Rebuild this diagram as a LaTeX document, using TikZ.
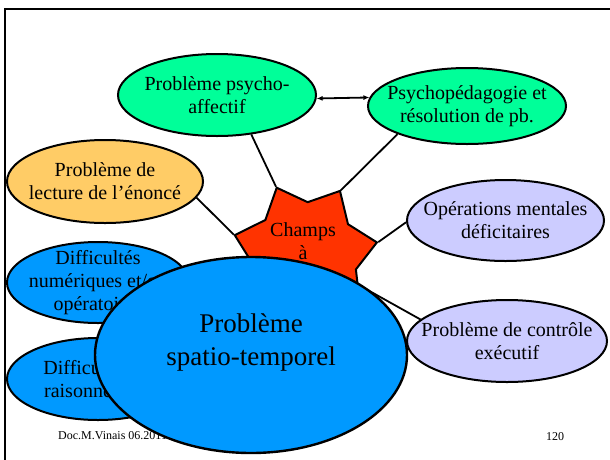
\documentclass[tikz,border=0pt]{standalone}
\usepackage{fontspec}
\setmainfont{Liberation Serif}
\usetikzlibrary{shapes.geometric,arrows.meta,backgrounds}
\definecolor{mint}{RGB}{0,255,153}
\definecolor{sand}{RGB}{255,204,102}
\definecolor{lilac}{RGB}{204,204,255}
\definecolor{sky}{RGB}{0,153,255}
\definecolor{flame}{RGB}{255,51,0}
\begin{document}
\begin{tikzpicture}[x=1pt,y=-1pt,
  bubble/.style={ellipse,draw=black,line width=2pt,inner sep=0pt},
  caption/.style={align=center,font=\fontsize{20}{23}\selectfont,inner sep=0pt},
  link/.style={line width=1.8pt},
  small/.style={font=\fontsize{12}{14}\selectfont,inner sep=0pt},
]
\useasboundingbox (0,0) rectangle (610,459);

% themes around the centre
\node[bubble,fill=mint,minimum width=198,minimum height=82] (g1) at (217,95) {};
\node[bubble,fill=mint,minimum width=198,minimum height=76] (g2) at (467,106) {};
\node[bubble,fill=sand,minimum width=196,minimum height=83] (o1) at (105,181.5) {};
\node[bubble,fill=lilac,minimum width=197,minimum height=81] (l1) at (505.5,220.5) {};
\node[bubble,fill=lilac,minimum width=200,minimum height=82] (l2) at (507,341) {};

% central star
\node[star,star points=7,star point ratio=1.38,shape border rotate=22.8,
      minimum size=146,inner sep=0pt,draw=black,line width=2pt,fill=flame] (st) at (305,255) {};
\node[caption] (stt) at (303,241) {Champs\\à};

\node[bubble,fill=sky,minimum width=182,minimum height=81] (b1) at (98,282.5) {};
\node[bubble,fill=sky,minimum width=182,minimum height=82] (b2) at (98,379) {};

\node[caption] (g1t) at (g1) {Problème psycho-\\affectif};
\node[caption] (g2t) at (g2) {Psychopédagogie et\\résolution de pb.};
\node[caption] (o1t) at (o1) {Problème de\\lecture de l’énoncé};
\node[caption] (l1t) at (l1) {Opérations mentales\\déficitaires};
\node[caption] (l2t) at (l2) {Problème de contrôle\\exécutif};
\node[caption] (b1t) at (b1) {Difficultés\\numériques et/ou\\opératoires};
\node[caption] (b2t) at (b2) {Difficultés de\\raisonnement};

% footer
\node[small,anchor=west] (doc) at (58,436) {Doc.M.Vinais 06.2011};
\node[small] (page) at (555,437) {120};

% large foreground ellipse
\node[bubble,fill=sky,line width=2.4pt,minimum width=312,minimum height=196] (big) at (251,355) {};
\node[caption,font=\fontsize{27}{33}\selectfont] (bigt) at (251,342) {Problème\\spatio-temporel};

% double arrow between the two top themes
\draw[link,{Latex[length=6pt,width=5pt]}-{Latex[length=6pt,width=5pt]}] (g1.-2) -- (g2.175);

\begin{pgfonlayer}{background}
  \fill[white] (0,0) rectangle (610,459);
  \draw[line width=2.2pt] (612,9) -- (5,9) -- (5,461);
  \draw[link] (g1.-49) -- (st.113);
  \draw[link] (g2.202) -- (st.61);
  \draw[link] (o1.-10) -- (st.164);
  \draw[link] (l1.181) -- (st.10);
  \draw[link] (st.center) -- (l2.166);
\end{pgfonlayer}
\end{tikzpicture}
\end{document}
